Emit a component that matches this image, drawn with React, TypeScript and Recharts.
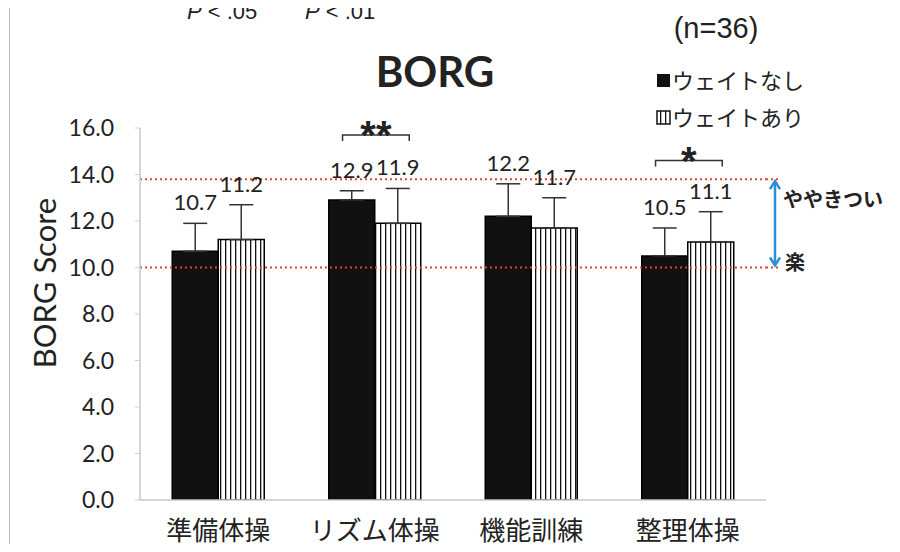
import {
  BarChart, Bar, XAxis, YAxis, ErrorBar, LabelList, ReferenceLine, ReferenceArea,
} from 'recharts';

const CATEGORIES = ['準備体操', 'リズム体操', '機能訓練', '整理体操'];
const NO_WEIGHT = [10.7, 12.9, 12.2, 10.5];
const WITH_WEIGHT = [11.2, 11.9, 11.7, 11.1];
const NO_WEIGHT_SD = [1.2, 0.4, 1.4, 1.2];
const WITH_WEIGHT_SD = [1.5, 1.5, 1.3, 1.3];
const SIG_MARK = ['', '**', '', '*'];
const SIG_LEVEL = [0, 15.7, 0, 14.6];
const Y_TICKS = [0, 2, 4, 6, 8, 10, 12, 14, 16];
const HARD_LINE = 13.8;
const EASY_LINE = 10;

const data = CATEGORIES.map((name, i) => ({
  name,
  noWeight: NO_WEIGHT[i],
  withWeight: WITH_WEIGHT[i],
  noWeightErr: [0, NO_WEIGHT_SD[i]],
  withWeightErr: [0, WITH_WEIGHT_SD[i]],
}));

const RED = '#e5432d';

const box = (p: any) => {
  const vb = p.viewBox && p.viewBox.width !== undefined ? p.viewBox : p;
  return { x: Number(vb.x), y: Number(vb.y), w: Number(vb.width), h: Number(vb.height) };
};

const valueLabel = (errs: number[]) => (p: any) => {
  const { x, y, w, h } = box(p);
  const v = Number(p.value);
  const ppu = h / v;
  const top = y - errs[p.index] * ppu;
  return (
    <text x={x + w / 2} y={top - 13} textAnchor="middle" fontFamily="Lato" fontSize={22} fill="#222">
      {v.toFixed(1)}
    </text>
  );
};

const sigBracket = (p: any) => {
  const mark = SIG_MARK[p.index];
  if (!mark) return null;
  const { x, y, w, h } = box(p);
  const ppu = h / Number(p.value);
  const by = y + h - SIG_LEVEL[p.index] * ppu;
  const x1 = x + w * 0.3;
  const x2 = x + w * 1.75;
  return (
    <g>
      <path d={`M${x1},${by + 6}V${by}H${x2}V${by + 6}`} fill="none" stroke="#333" strokeWidth={1.5} />
      <text x={(x1 + x2) / 2} y={by + 14} textAnchor="middle" fontFamily="Liberation Sans" fontWeight="bold" fontSize={40} fill="#222">
        {mark}
      </text>
    </g>
  );
};

const arrowNote = (p: any) => {
  const { x, y, w, h } = box(p);
  const ax = x + w + 9;
  const c = '#2a8fd8';
  return (
    <g>
      <line x1={x + w} y1={y} x2={ax + 4} y2={y} stroke={RED} strokeDasharray="2 3" strokeWidth={2} />
      <line x1={x + w} y1={y + h} x2={ax + 4} y2={y + h} stroke={RED} strokeDasharray="2 3" strokeWidth={2} />
      <line x1={ax} y1={y + 2} x2={ax} y2={y + h - 2} stroke={c} strokeWidth={2.5} />
      <polyline points={`${ax - 5},${y + 10} ${ax},${y + 2} ${ax + 5},${y + 10}`} fill="none" stroke={c} strokeWidth={2.5} />
      <polyline points={`${ax - 5},${y + h - 10} ${ax},${y + h - 2} ${ax + 5},${y + h - 10}`} fill="none" stroke={c} strokeWidth={2.5} />
      <text x={ax + 8} y={y + 28} fontFamily="Noto Sans CJK JP" fontWeight="bold" fontSize={20} fill="#222">ややきつい</text>
      <text x={ax + 10} y={y + h + 2} fontFamily="Noto Sans CJK JP" fontWeight="bold" fontSize={20} fill="#222">楽</text>
    </g>
  );
};

export default function App() {
  return (
    <div style={{ position: 'relative', width: 900, height: 552, margin: -8, background: '#fff', overflow: 'hidden' }}>
      <svg width={0} height={0} style={{ position: 'absolute' }}>
        <defs>
          <pattern id="vstripe" patternUnits="userSpaceOnUse" width={5} height={10}>
            <rect width={5} height={10} fill="#fff" />
            <rect x={0} width={1.3} height={10} fill="#111" />
          </pattern>
        </defs>
      </svg>
      <BarChart width={900} height={552} data={data}
        margin={{ top: 128, right: 134, bottom: 0, left: 0 }}
        barCategoryGap="20.6%" barGap={0}>
        <XAxis dataKey="name" height={52} interval={0}
          axisLine={{ stroke: '#c8c8c8', strokeWidth: 1.5 }} tickLine={false} tickMargin={16}
          tick={{ fill: '#222', fontSize: 26, fontFamily: '"Noto Sans CJK JP"' }} />
        <YAxis width={140} domain={[0, 16]} ticks={Y_TICKS} allowDataOverflow
          tickFormatter={(v: number) => v.toFixed(1)}
          axisLine={{ stroke: '#c8c8c8', strokeWidth: 1.5 }} tickLine={{ stroke: '#d0d0d0' }}
          tickSize={5} tickMargin={21}
          tick={{ fill: '#222', fontSize: 23, fontFamily: 'Lato' }} />
        <Bar dataKey="noWeight" fill="#111" stroke="#000" strokeWidth={1.5} isAnimationActive={false}>
          <ErrorBar dataKey="noWeightErr" width={12} stroke="#333" strokeWidth={1.5} direction="y" />
          <LabelList dataKey="noWeight" content={valueLabel(NO_WEIGHT_SD)} />
          <LabelList dataKey="noWeight" content={sigBracket} />
        </Bar>
        <Bar dataKey="withWeight" fill="url(#vstripe)" stroke="#000" strokeWidth={1.5} isAnimationActive={false}>
          <ErrorBar dataKey="withWeightErr" width={12} stroke="#333" strokeWidth={1.5} direction="y" />
          <LabelList dataKey="withWeight" content={valueLabel(WITH_WEIGHT_SD)} />
        </Bar>
        <ReferenceArea y1={EASY_LINE} y2={HARD_LINE} fill="none" fillOpacity={0} stroke="none" ifOverflow="visible" label={arrowNote} />
        <ReferenceLine y={HARD_LINE} stroke={RED} strokeDasharray="2 3" strokeWidth={2} />
        <ReferenceLine y={EASY_LINE} stroke={RED} strokeDasharray="2 3" strokeWidth={2} />
      </BarChart>
      <svg width={900} height={552} style={{ position: 'absolute', left: 0, top: 0, pointerEvents: 'none' }}>
        <rect x={3} y={0} width={3} height={552} fill="#333" />
        <rect x={9} y={0} width={1} height={552} fill="#bbb" />
        <g fontFamily="Liberation Sans" fill="#222">
          <text x={174} y={10} fontSize={18}>*</text>
          <text x={187} y={19} fontSize={22}><tspan fontStyle="italic">P</tspan> &lt; .05</text>
          <text x={283} y={10} fontSize={18}>**</text>
          <text x={305} y={19} fontSize={22}><tspan fontStyle="italic">P</tspan> &lt; .01</text>
          <text x={716} y={38} fontSize={29} textAnchor="middle">(n=36)</text>
        </g>
        <text x={435} y={87} textAnchor="middle" fontFamily="Lato" fontWeight="bold" fontSize={42} fill="#222">BORG</text>
        <rect x={657} y={74} width={13} height={13} fill="#111" />
        <rect x={657} y={111} width={13} height={13} fill="url(#vstripe)" stroke="#111" strokeWidth={1.5} />
        <g fontFamily="Noto Sans CJK JP" fontSize={22} fill="#222">
          <text x={672} y={89}>ウェイトなし</text>
          <text x={672} y={126}>ウェイトあり</text>
        </g>
        <text x={44} y={283} transform="rotate(-90 44 283)" textAnchor="middle" dominantBaseline="central"
          fontFamily="Lato" fontSize={31} fill="#222">BORG Score</text>
      </svg>
    </div>
  );
}
